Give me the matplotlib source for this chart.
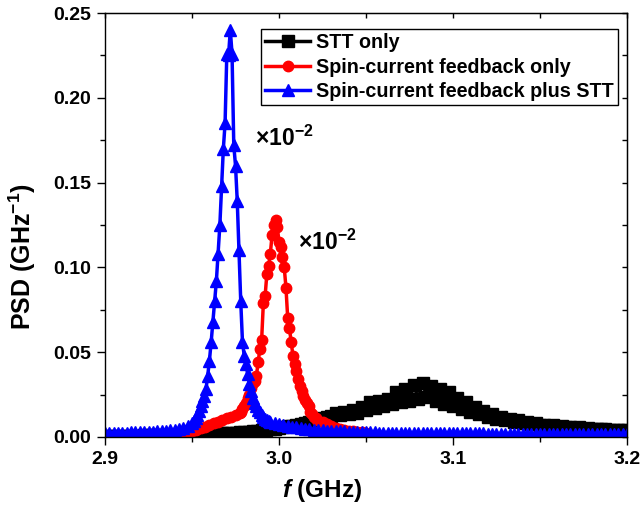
import matplotlib
matplotlib.use("Agg")
import matplotlib.pyplot as plt
import numpy as np
from matplotlib.ticker import MultipleLocator, FormatStrFormatter

plt.rcParams['font.family'] = ['Liberation Sans', 'DejaVu Sans']
plt.rcParams['font.weight'] = 'bold'
plt.rcParams['axes.labelweight'] = 'bold'
plt.rcParams['mathtext.fontset'] = 'custom'
plt.rcParams['mathtext.rm'] = 'Liberation Sans:bold'
plt.rcParams['mathtext.it'] = 'Liberation Sans:bold:italic'
plt.rcParams['mathtext.bf'] = 'Liberation Sans:bold'

# ---- data ----
labels = ['STT only', 'Spin-current feedback only', 'Spin-current feedback plus STT']

# STT only: uniform grid 2.900 ... 3.200, step 0.0025
f_stt = np.round(np.arange(2.900, 3.2001, 0.0025), 4)
psd_stt = [
    .0005, .0005, .0006, .0006, .0006, .0007, .0007, .0008, .0008, .0009,
    .0009, .0010, .0010, .0011, .0011, .0012, .0012, .0013, .0014, .0015,
    .0015, .0016, .0017, .0018, .0019, .0020, .0021, .0022, .0024, .0025,
    .0026, .0028, .0030, .0032, .0034, .0036, .0039, .0042, .0045, .0048,
    .0052, .0056, .0062, .0066, .0072, .0078, .0085, .0090, .0098, .0104,
    .0110, .0118, .0125, .0140, .0128, .0150, .0135, .0158, .0142, .0175,
    .0160, .0205, .0170, .0215, .0185, .0225, .0195, .0265, .0205, .0285,
    .0215, .0305, .0225, .0320, .0235, .0300, .0215, .0285, .0195, .0265,
    .0185, .0230, .0165, .0205, .0150, .0175, .0135, .0155, .0118, .0135,
    .0108, .0120, .0098, .0108, .0090, .0098, .0082, .0088, .0075, .0080,
    .0070, .0072, .0065, .0068, .0060, .0062, .0056, .0060, .0054, .0056,
    .0050, .0052, .0048, .0049, .0045, .0046, .0043, .0044, .0041, .0042,
    .0040,
]

# Spin-current feedback only
f_fb = np.round(np.concatenate([np.arange(2.935, 2.9776, 0.0025),
                                np.arange(2.978, 3.0225, 0.001),
                                np.arange(3.025, 3.0501, 0.0025)]), 4)
psd_fb = [
    .0012, .0015, .0018, .0022, .0027, .0032, .0038, .0044, .0052, .0060,
    .0070, .0080, .0090, .0100, .0110, .0120, .0132, .0142,
    .0150, .0165, .0180, .0200, .0230, .0250, .0290, .0320, .0330, .0360,
    .0440, .0520, .0570, .0790, .0830, .0960, .1010, .1080, .1190, .1250,
    .1280, .1240, .1150, .1120, .1060, .1000, .0880, .0700, .0640, .0560,
    .0480, .0430, .0390, .0340, .0300, .0270, .0240, .0220, .0200, .0180,
    .0150, .0135, .0120, .0110, .0100,
    .0088, .0075, .0064, .0055, .0048, .0042, .0037, .0033, .0030, .0027,
    .0025,
]

# Spin-current feedback plus STT
f_both = np.round(np.concatenate([np.arange(2.900, 2.9476, 0.0025),
                                  np.arange(2.950, 2.9945, 0.001),
                                  np.arange(2.995, 3.2001, 0.0025)]), 4)
psd_both = [
    .0024, .0024, .0025, .0025, .0026, .0026, .0027, .0028, .0029, .0030,
    .0031, .0032, .0034, .0036, .0038, .0041, .0044, .0048, .0055, .0065,
    .0085, .0095, .0110, .0130, .0155, .0180, .0210, .0240, .0280, .0360,
    .0450, .0560, .0680, .0800, .0920, .1080, .1250, .1480, .1700, .1850,
    .2260, .2250, .2400, .2260, .1720, .1600, .1390, .1100, .0800, .0560,
    .0480, .0430, .0370, .0310, .0270, .0230, .0200, .0180, .0160, .0145,
    .0130, .0118, .0108, .0100, .0094,
    .0088, .0080, .0074, .0069, .0064, .0060, .0056, .0052, .0049, .0046,
    .0044, .0042, .0040, .0038, .0036, .0035, .0034, .0033, .0032, .0031,
    .0030, .0029, .0028,
    .0027, .0027, .0026, .0026, .0026, .0025, .0025, .0025, .0024, .0024,
    .0024, .0024, .0023, .0023, .0023, .0023, .0022, .0022, .0022, .0022,
    .0022, .0021, .0021, .0021, .0021, .0021, .0021, .0020, .0020, .0020,
    .0020, .0020, .0020, .0020, .0019, .0019, .0019, .0019, .0019, .0019,
    .0019, .0019, .0019, .0018, .0018, .0018, .0018, .0018, .0018, .0018,
    .0018, .0018, .0018, .0018, .0018, .0018, .0018, .0018, .0018, .0018,
]

scale_note = '×10$^{-2}$'

fig = plt.figure(figsize=(6.42, 5.08), dpi=100)
ax = fig.add_axes([0.1636, 0.1398, 0.8130, 0.8346])

ax.plot(f_stt, psd_stt, '-s', color='black', lw=2.5, ms=8.5, label=labels[0])
ax.plot(f_fb, psd_fb, '-o', color='red', lw=2.5, ms=7.5, label=labels[1])
ax.plot(f_both, psd_both, '-^', color='blue', lw=2.5, ms=8, label=labels[2])

ax.set_xlim(2.9, 3.2)
ax.set_ylim(0, 0.25)
ax.xaxis.set_major_locator(MultipleLocator(0.1))
ax.xaxis.set_minor_locator(MultipleLocator(0.05))
ax.yaxis.set_major_locator(MultipleLocator(0.05))
ax.yaxis.set_minor_locator(MultipleLocator(0.025))
ax.xaxis.set_major_formatter(FormatStrFormatter('%.1f'))
ax.yaxis.set_major_formatter(FormatStrFormatter('%.2f'))
ax.tick_params(which='major', direction='out', length=6, width=1, labelsize=14, pad=4)
ax.tick_params(which='minor', direction='out', length=3.5, width=1)
for s in ax.spines.values():
    s.set_linewidth(1)

# mirrored inward ticks on top / right
top = ax.secondary_xaxis('top')
top.xaxis.set_major_locator(MultipleLocator(0.1))
top.xaxis.set_minor_locator(MultipleLocator(0.05))
top.tick_params(which='both', direction='in', length=3.5, width=1, labeltop=False)
right = ax.secondary_yaxis('right')
right.yaxis.set_major_locator(MultipleLocator(0.05))
right.yaxis.set_minor_locator(MultipleLocator(0.025))
right.tick_params(which='both', direction='in', length=3.5, width=1, labelright=False)

ax.set_xlabel('$f$ (GHz)', fontsize=17.5)
ax.set_ylabel('PSD (GHz$^{-1}$)', fontsize=18)
ax.xaxis.set_label_coords(0.416, -0.095)
ax.yaxis.set_label_coords(-0.128, 0.425)

ax.text(3.003, 0.176, scale_note, fontsize=16.5, fontweight='bold', ha='center', va='center')
ax.text(3.028, 0.115, scale_note, fontsize=16.5, fontweight='bold', ha='center', va='center')

leg = ax.legend(loc='upper right', bbox_to_anchor=(0.983, 0.962), borderaxespad=0,
                prop={'size': 14.2, 'weight': 'bold'}, handlelength=2.3,
                handletextpad=0.3, labelspacing=0.28, borderpad=0.2,
                fancybox=False, framealpha=1)
leg.get_frame().set_edgecolor('black')
leg.get_frame().set_linewidth(1)

fig.savefig('out.png', dpi=100)
